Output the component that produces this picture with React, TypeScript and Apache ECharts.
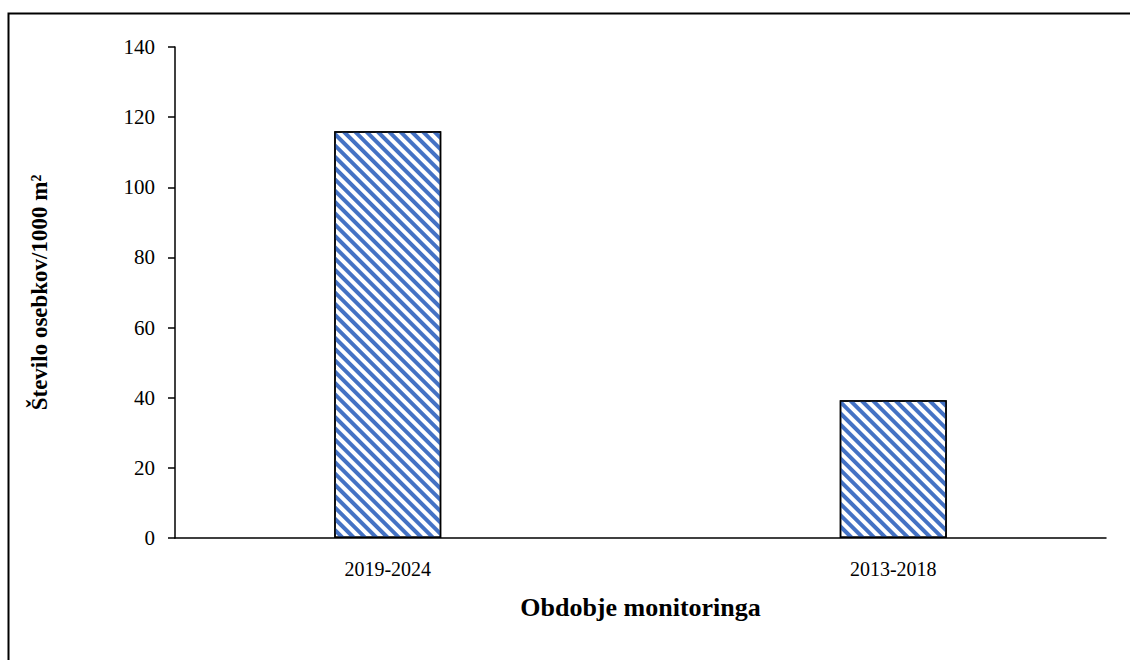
import React, { useEffect, useRef } from "react";
import * as echarts from "echarts";

const categories = ["2019-2024", "2013-2018"];
const values = [116, 39.3];
const yTicks = { min: 0, max: 140, interval: 20 };
const yTitle = "Število osebkov/1000 m²";
const xTitle = "Obdobje monitoringa";

export default function App() {
  const ref = useRef<HTMLDivElement>(null);
  useEffect(() => {
    if (!ref.current) return;
    const chart = echarts.init(ref.current, null, { renderer: "svg" });
    const font = "'Liberation Serif', 'Times New Roman', serif";
    const itemStyle = {
      color: "#ffffff",
      borderColor: "#000",
      borderWidth: 1.5,
      decal: {
        symbol: "rect",
        symbolSize: 1,
        color: "#4472C4",
        dashArrayX: [1, 0],
        dashArrayY: [3.5, 3.5],
        rotation: Math.PI / 4,
      },
    };
    // Each category's bar lives in its own series so the two bars sit slightly apart, as in the original
    const seriesList = categories.map((_, i) => ({
      type: "bar",
      data: values.map((v, j) => (j === i ? v : null)),
      barWidth: 107,
      barGap: "-62.6%",
      itemStyle,
    }));
    const labelBase = { color: "#000", fontSize: 20, fontFamily: font };
    chart.setOption({
      animation: false,
      backgroundColor: "#ffffff",
      textStyle: { fontFamily: font },
      grid: { left: 175, right: 24, top: 47, bottom: 122, containLabel: false },
      graphic: [
        {
          type: "rect",
          shape: { x: 8.5, y: 13.5, width: 1200, height: 700 },
          style: { fill: "none", stroke: "#000", lineWidth: 2 },
          silent: true,
        },
      ],
      xAxis: {
        type: "category",
        data: categories,
        axisLine: { show: true, lineStyle: { color: "#000", width: 1.5 } },
        axisTick: { show: false },
        axisLabel: {
          ...labelBase,
          margin: 21,
          formatter: (v: string, i: number) => (i === 0 ? `{l|${v}}` : `{r|${v}}`),
          rich: {
            l: { ...labelBase, padding: [0, 40, 0, 0] },
            r: { ...labelBase, padding: [0, 0, 0, 40] },
          },
        },
        name: xTitle,
        nameLocation: "middle",
        nameGap: 56,
        nameTextStyle: { color: "#000", fontSize: 26, fontWeight: "bold", fontFamily: font },
      },
      yAxis: {
        type: "value",
        min: yTicks.min,
        max: yTicks.max,
        interval: yTicks.interval,
        axisLine: { show: true, lineStyle: { color: "#000", width: 1.5 } },
        axisTick: { show: true, inside: false, length: 7, lineStyle: { color: "#000", width: 1.5 } },
        splitLine: { show: false },
        axisLabel: { color: "#000", fontSize: 21, margin: 20, fontFamily: font },
        name: yTitle,
        nameLocation: "middle",
        nameGap: 124,
        nameTextStyle: { color: "#000", fontSize: 23, fontWeight: "bold", fontFamily: font },
      },
      series: seriesList,
    });
    return () => chart.dispose();
  }, []);
  return (
    <div
      ref={ref}
      style={{ position: "fixed", left: 0, top: 0, width: 1130, height: 660 }}
    />
  );
}
